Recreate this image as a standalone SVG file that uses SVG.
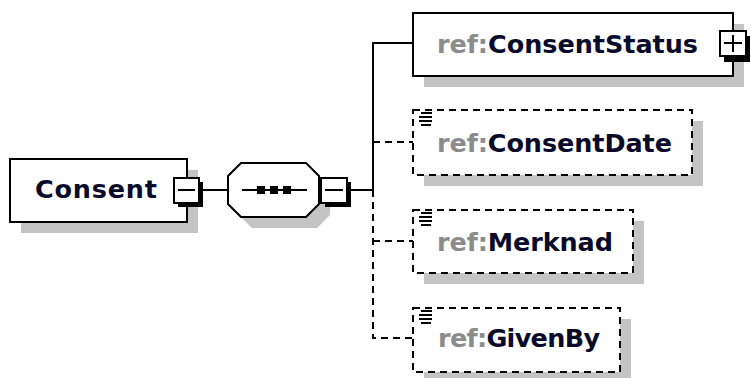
<svg xmlns="http://www.w3.org/2000/svg" width="751" height="378" viewBox="0 0 751 378">
  <defs>
    <style>
      .shadow { fill: #c4c4c4; stroke: none; }
      .box { fill: #ffffff; stroke: #000000; stroke-width: 2; }
      .opt { fill: #ffffff; stroke: #000000; stroke-width: 2; stroke-dasharray: 7 5; }
      .wire { fill: none; stroke: #000000; stroke-width: 2; }
      .wire-opt { fill: none; stroke: #000000; stroke-width: 2; stroke-dasharray: 7 5; }
      .label { font-family: "DejaVu Sans", "Liberation Sans", sans-serif; font-weight: bold; font-size: 25.5px; fill: #0a0a2a; }
      .ns { fill: #8c8c8c; }
      .btn { fill: #ffffff; stroke: #000000; stroke-width: 2; }
      .btn-back { fill: #000000; }
      .glyph { fill: none; stroke: #000000; stroke-width: 2; }
      .icon { stroke: #000000; stroke-width: 2; }
    </style>
    <!-- "simple content" marker drawn at the top-left of an element box -->
    <g id="contentIcon">
      <line class="icon" x1="8" y1="5" x2="19" y2="5"/>
      <line class="icon" x1="6" y1="9" x2="19" y2="9"/>
      <line class="icon" x1="6" y1="13" x2="19" y2="13"/>
      <line class="icon" x1="8" y1="17" x2="18" y2="17"/>
    </g>
  </defs>

  <rect width="751" height="378" fill="#ffffff"/>

  <!-- connectors -->
  <g id="connectors">
    <line class="wire" x1="203" y1="190" x2="228" y2="190"/>
    <line class="wire" x1="351" y1="190" x2="373" y2="190"/>
    <polyline class="wire" points="373,190 373,43 413,43"/>
    <polyline class="wire-opt" points="373,190 373,338 413,338"/>
    <line class="wire-opt" x1="373" y1="142" x2="413" y2="142"/>
    <line class="wire-opt" x1="373" y1="241" x2="413" y2="241"/>
  </g>

  <!-- root element -->
  <g id="node-consent">
    <rect class="shadow" x="21" y="170" width="177" height="63"/>
    <rect class="box" x="10" y="159" width="177" height="63"/>
    <text class="label" x="35" y="198" textLength="122" lengthAdjust="spacing">Consent</text>
    <rect class="btn-back" x="178" y="182" width="25" height="25"/>
    <rect class="btn" x="174" y="178" width="25" height="25"/>
    <line class="glyph" x1="178" y1="190" x2="195" y2="190"/>
  </g>

  <!-- sequence compositor -->
  <g id="node-sequence">
    <polygon class="shadow" points="252,174 317,174 330,187 330,215 317,228 252,228 239,215 239,187"/>
    <polygon class="box" points="241,163 306,163 319,176 319,204 306,217 241,217 228,204 228,176"/>
    <line class="glyph" x1="242" y1="190" x2="307" y2="190"/>
    <rect x="257" y="186" width="8" height="8" fill="#000000"/>
    <rect x="270" y="186" width="8" height="8" fill="#000000"/>
    <rect x="283" y="186" width="8" height="8" fill="#000000"/>
    <rect class="btn-back" x="325" y="182" width="26" height="25"/>
    <rect class="btn" x="321" y="178" width="26" height="25"/>
    <line class="glyph" x1="325" y1="190" x2="343" y2="190"/>
  </g>

  <!-- ref:ConsentStatus -->
  <g id="node-consentstatus">
    <rect class="shadow" x="424" y="24" width="320" height="63"/>
    <rect class="box" x="413" y="13" width="320" height="63"/>
    <text class="label" x="437" y="53" textLength="261" lengthAdjust="spacing"><tspan class="ns">ref:</tspan>ConsentStatus</text>
    <rect class="btn-back" x="724" y="36" width="26" height="26"/>
    <rect class="btn" x="720" y="31" width="26" height="25"/>
    <line class="glyph" x1="724" y1="43" x2="742" y2="43"/>
    <line class="glyph" x1="733" y1="35" x2="733" y2="52"/>
  </g>

  <!-- ref:ConsentDate -->
  <g id="node-consentdate">
    <rect class="shadow" x="424" y="121" width="279" height="65"/>
    <rect class="opt" x="413" y="110" width="279" height="65"/>
    <use href="#contentIcon" x="413" y="108"/>
    <text class="label" x="437" y="152" textLength="235" lengthAdjust="spacing"><tspan class="ns">ref:</tspan>ConsentDate</text>
  </g>

  <!-- ref:Merknad -->
  <g id="node-merknad">
    <rect class="shadow" x="424" y="221" width="220" height="63"/>
    <rect class="opt" x="413" y="210" width="220" height="63"/>
    <use href="#contentIcon" x="413" y="208"/>
    <text class="label" x="437" y="251" textLength="176" lengthAdjust="spacing"><tspan class="ns">ref:</tspan>Merknad</text>
  </g>

  <!-- ref:GivenBy -->
  <g id="node-givenby">
    <rect class="shadow" x="424" y="319" width="207" height="64"/>
    <rect class="opt" x="413" y="308" width="207" height="64"/>
    <use href="#contentIcon" x="413" y="306"/>
    <text class="label" x="438" y="347" textLength="162" lengthAdjust="spacing"><tspan class="ns">ref:</tspan>GivenBy</text>
  </g>
</svg>
